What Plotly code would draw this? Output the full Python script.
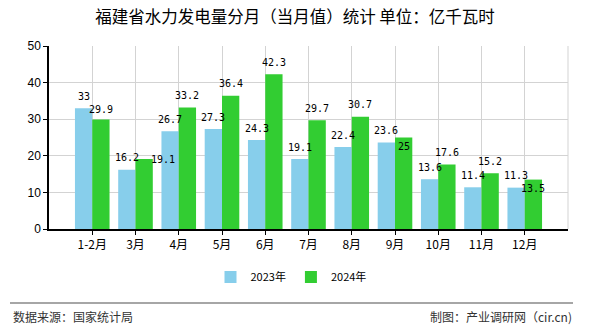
import plotly.graph_objects as go

categories = ["1-2月", "3月", "4月", "5月", "6月", "7月", "8月", "9月", "10月", "11月", "12月"]
values_2023 = [33, 16.2, 26.7, 27.3, 24.3, 19.1, 22.4, 23.6, 13.6, 11.4, 11.3]
values_2024 = [29.9, 19.1, 33.2, 36.4, 42.3, 29.7, 30.7, 25, 17.6, 15.2, 13.5]
series_names = ["2023年", "2024年"]
title_text = "福建省水力发电量分月（当月值）统计 单位：亿千瓦时"
source_text = "数据来源：国家统计局"
credit_text = "制图：产业调研网（cir.cn)"

CJK = "Noto Sans CJK SC"
colors = ["#87CEEB", "#32CD32"]

# label placement tweaks (pixels) for labels that were moved to avoid collisions
label_shift = {(1, 0): (0, 10), (1, 1): (19, 0), (1, 7): (0, -9), (1, 10): (0, -8.5)}

fig = go.Figure()
for name, vals, col in zip(series_names, [values_2023, values_2024], colors):
    fig.add_trace(go.Bar(
        x=categories, y=vals, name=name,
        marker=dict(color=col, line=dict(width=0)),
    ))

# plot area: x 49..568, y 46..229
L, R, T, B = 49, 22, 46, 101
W, H = 590 - L - R, 330 - T - B
slot = W / 12.0
half = slot * 0.8 / 4  # offset from category centre to each bar centre

def px2x(px):
    return (px - L) / W

def py2y(py):
    return (330 - B - py) / H

annotations = []
for s, vals in enumerate([values_2023, values_2024]):
    base_dx = -half if s == 0 else half
    for i, (c, v) in enumerate(zip(categories, vals)):
        ddx, dy = label_shift.get((s, i), (0, 12))
        annotations.append(dict(
            x=c, y=v, xref="x", yref="y", text=f"{v:g}", showarrow=False,
            xanchor="center", yanchor="middle", xshift=base_dx + ddx, yshift=dy,
            font=dict(family="DejaVu Sans Mono", size=10, color="#000"),
        ))

annotations += [
    dict(text=source_text, xref="paper", yref="paper", x=px2x(11), y=py2y(316),
         xanchor="left", yanchor="middle", showarrow=False,
         font=dict(family=CJK, size=12, color="#333")),
    dict(text=credit_text, xref="paper", yref="paper", x=px2x(574), y=py2y(316),
         xanchor="right", yanchor="middle", showarrow=False,
         font=dict(family=CJK, size=12, color="#333")),
]

fig.update_layout(
    width=590, height=330,
    margin=dict(l=L, r=R, t=T, b=B),
    paper_bgcolor="white", plot_bgcolor="white",
    barmode="group", bargap=0.2, bargroupgap=0,
    showlegend=True,
    legend=dict(orientation="h", x=px2x(291), xanchor="center", y=py2y(277), yanchor="middle",
                font=dict(family=CJK, size=11, color="#000"),
                traceorder="normal"),
    title=dict(text=title_text, x=0.5, xref="container", xanchor="center",
               y=1 - 17 / 330, yanchor="middle",
               font=dict(family=CJK, size=16.5, color="#000")),
    xaxis=dict(
        type="category", range=[-1, 11],
        showline=True, linecolor="#000", linewidth=1.5,
        showgrid=True, gridcolor="#d3d3d3", gridwidth=1,
        ticks="outside", ticklen=4, tickcolor="#000",
        tickfont=dict(family=CJK, size=12, color="#000"),
    ),
    yaxis=dict(
        range=[0, 50], dtick=10,
        showline=True, linecolor="#000", linewidth=1.5,
        showgrid=True, gridcolor="#d3d3d3", gridwidth=1,
        ticks="outside", ticklen=4, tickcolor="#000",
        tickfont=dict(family="Liberation Sans", size=12, color="#000"),
        zeroline=False,
    ),
    shapes=[
        dict(type="line", xref="paper", yref="paper", x0=1, x1=1, y0=0, y1=1,
             line=dict(color="#d3d3d3", width=1)),
        dict(type="line", xref="paper", yref="paper", x0=px2x(10), x1=px2x(573),
             y0=py2y(303), y1=py2y(303), line=dict(color="#888", width=1.5)),
    ],
    annotations=annotations,
)

fig.write_html("out.html")
